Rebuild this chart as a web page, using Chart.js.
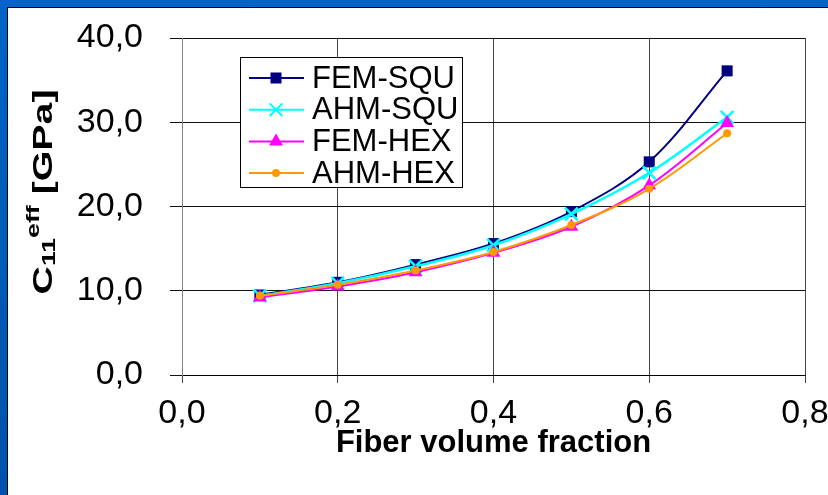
<!DOCTYPE html>
<html>
<head>
<meta charset="utf-8">
<script src="https://cdn.jsdelivr.net/npm/chart.js@4.4.7/dist/chart.umd.min.js"></script>
<style>
    html, body { margin: 0; padding: 0; }
    body { width: 828px; height: 495px; overflow: hidden; position: relative;
           background: linear-gradient(180deg, #0064c8 0%, #0052ac 100%); }
    .sheet { position: absolute; left: 7px; top: 7px; right: 0; bottom: 0;
             background: #fff; border-left: 1px solid #000; border-top: 1px solid #000; }
    #chart { position: absolute; left: 0; top: 0; }
</style>
</head>
<body>
<div class="sheet"></div>
<canvas id="chart" width="828" height="495"></canvas>
<script>
    var fractions = [0.1, 0.2, 0.3, 0.4, 0.5, 0.6, 0.7];
    var femSqu = [9.5, 11.0, 13.1, 15.6, 19.4, 25.3, 36.1];
    var ahmSqu = [9.4, 10.9, 12.9, 15.4, 19.1, 24.0, 30.6];
    var femHex = [9.2, 10.5, 12.2, 14.5, 17.6, 22.5, 29.9];
    var ahmHex = [9.4, 10.7, 12.4, 14.6, 17.8, 22.1, 28.7];
    var seriesNames = ["FEM-SQU", "AHM-SQU", "FEM-HEX", "AHM-HEX"];
    var xTicks = [0, 0.2, 0.4, 0.6, 0.8];
    var yTicks = [0, 10, 20, 30, 40];

    var FONT = '"Liberation Sans", Arial, sans-serif';

    function pts(values) {
        return values.map(function (v, i) { return { x: fractions[i], y: v }; });
    }
    function comma(v) { return v.toFixed(1).replace(".", ","); }

    var styles = [
        { color: "#000080", pointStyle: "rect", radius: 7.8, width: 2 },
        { color: "#00ffff", pointStyle: "crossRot", radius: 9, width: 2.5 },
        { color: "#ff00ff", pointStyle: "triangle", radius: 8, width: 2 },
        { color: "#ff9900", pointStyle: "circle", radius: 4, width: 2 }
    ];
    var allValues = [femSqu, ahmSqu, femHex, ahmHex];

    var datasets = allValues.map(function (vals, i) {
        var s = styles[i];
        return {
            label: seriesNames[i],
            data: pts(vals),
            borderColor: s.color,
            backgroundColor: s.color,
            borderWidth: s.width,
            pointStyle: s.pointStyle,
            pointRadius: s.radius,
            pointBorderWidth: s.pointStyle === "crossRot" ? 2.5 : 0,
            pointBorderColor: s.color,
            pointBackgroundColor: s.color,
            tension: 0.35,
            order: 4 - i
        };
    });

    // legend with line + marker and the axis titles (sub/superscript)
    var decorations = {
        id: "decorations",
        afterDraw: function (chart) {
            var ctx = chart.ctx;
            ctx.save();

            // legend
            ctx.fillStyle = "#fff";
            ctx.fillRect(240, 57, 222, 130);
            ctx.strokeStyle = "#000";
            ctx.lineWidth = 1;
            ctx.strokeRect(240.5, 57.5, 222, 130);
            seriesNames.forEach(function (name, i) {
                var s = styles[i];
                var y = 78 + i * 31.7;
                ctx.strokeStyle = s.color;
                ctx.lineWidth = 2;
                ctx.beginPath();
                ctx.moveTo(249, y);
                ctx.lineTo(304, y);
                ctx.stroke();
                ctx.fillStyle = s.color;
                ctx.strokeStyle = s.color;
                Chart.helpers.drawPoint(ctx, {
                    pointStyle: s.pointStyle,
                    radius: s.radius,
                    rotation: 0,
                    borderWidth: s.pointStyle === "crossRot" ? 2.5 : 0
                }, 276, y);
                ctx.fillStyle = "#000";
                ctx.font = "31px " + FONT;
                ctx.textBaseline = "middle";
                ctx.textAlign = "left";
                ctx.fillText(name, 312, y + 1);
            });

            // x title
            var area = chart.chartArea;
            ctx.fillStyle = "#000";
            ctx.font = "bold 31px " + FONT;
            ctx.textAlign = "center";
            ctx.textBaseline = "alphabetic";
            ctx.fillText("Fiber volume fraction", (area.left + area.right) / 2, 452);

            // y title, rotated, stretched along its length like the original
            var big = "bold 28px " + FONT, small = "bold 19px " + FONT;
            var parts = [
                { t: "C", f: big, dy: 0 },
                { t: "11", f: small, dy: 3 },
                { t: "eff", f: small, dy: -13 },
                { t: " [GPa]", f: big, dy: 0 }
            ];
            var total = 0;
            parts.forEach(function (p) {
                ctx.font = p.f;
                p.w = ctx.measureText(p.t).width;
                total += p.w;
            });
            var stretch = 205 / total;
            ctx.translate(52, 192);
            ctx.rotate(-Math.PI / 2);
            ctx.scale(stretch, 1);
            var x = -total / 2;
            ctx.textAlign = "left";
            parts.forEach(function (p) {
                ctx.font = p.f;
                ctx.fillText(p.t, x, p.dy);
                x += p.w;
            });
            ctx.restore();
        }
    };

    function noXPad(s) { s.height = 120; s.paddingLeft = 0; s.paddingRight = 0; }
    function noYPad(s) { s.width = 182; s.paddingTop = 0; s.paddingBottom = 0; }

    new Chart(document.getElementById("chart"), {
        type: "line",
        data: { datasets: datasets },
        plugins: [decorations],
        options: {
            responsive: false,
            animation: false,
            layout: { padding: { top: 38, right: 23, left: 0, bottom: 0 } },
            plugins: { legend: { display: false }, tooltip: { enabled: false } },
            scales: {
                x: {
                    type: "linear",
                    min: 0, max: 0.8,
                    afterFit: noXPad,
                    afterBuildTicks: function (s) { s.ticks = xTicks.map(function (v) { return { value: v }; }); },
                    grid: { color: "#444", lineWidth: 1, tickLength: 8, drawTicks: true },
                    border: { color: "#000", width: 1 },
                    ticks: {
                        padding: 10, color: "#000", font: { family: FONT, size: 34 },
                        callback: function (v) { return comma(v); }
                    }
                },
                y: {
                    min: 0, max: 40,
                    afterFit: noYPad,
                    afterBuildTicks: function (s) { s.ticks = yTicks.map(function (v) { return { value: v }; }); },
                    grid: { color: "#111", lineWidth: 1, tickLength: 12, drawTicks: true },
                    border: { color: "#808080", width: 1 },
                    ticks: {
                        padding: 27, color: "#000", font: { family: FONT, size: 34 },
                        callback: function (v) { return comma(v); }
                    }
                }
            }
        }
    });
</script>
</body>
</html>
